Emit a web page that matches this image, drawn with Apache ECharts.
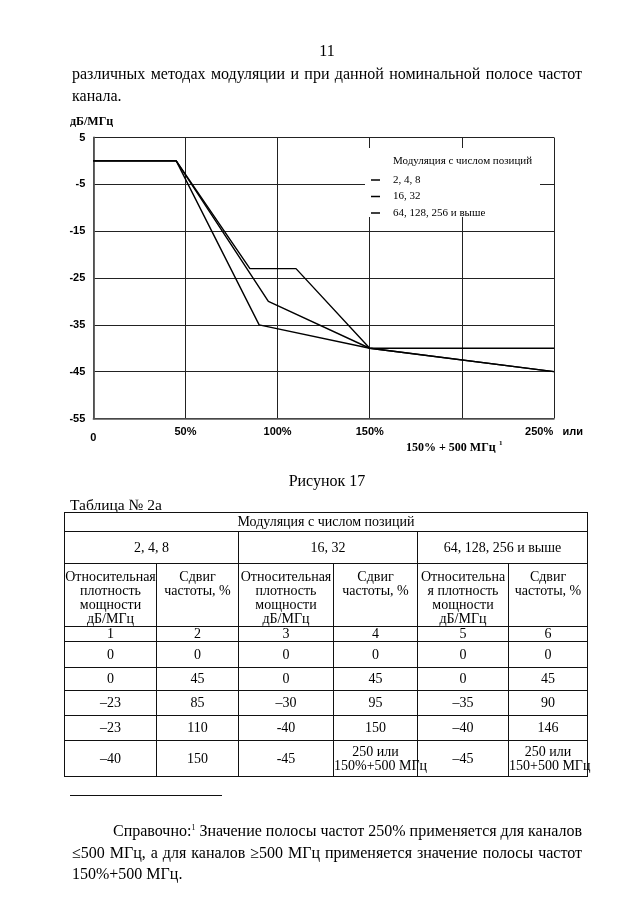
<!DOCTYPE html>
<html><head><meta charset="utf-8">
<script src="https://cdn.jsdelivr.net/npm/echarts@6/dist/echarts.min.js"></script>
<style>
html,body{margin:0;padding:0;background:#fff;}
body{width:640px;height:905px;position:relative;overflow:hidden;font-family:'Liberation Serif','Times New Roman',serif;color:#000;}
#chart{position:absolute;left:0;top:0;width:640px;height:905px;}
.t{position:absolute;font-size:16px;line-height:20px;white-space:nowrap;}
.jl{position:absolute;font-size:16px;line-height:21px;white-space:nowrap;text-align:justify;text-align-last:justify;}
.ll{position:absolute;font-size:16px;line-height:21px;white-space:nowrap;}
#tbl{position:absolute;left:64px;top:512px;border-collapse:collapse;font-size:14px;table-layout:fixed;}
#tbl td{border:1px solid #111;text-align:center;vertical-align:middle;padding:0;line-height:14px;overflow:visible;white-space:nowrap;}
#tbl td.hd{vertical-align:top;padding-top:6px;}
sup{font-size:8px;vertical-align:top;position:relative;top:-3px;}
</style></head><body>
<div id="chart"></div>
<div class="t" style="left:72px;width:510px;top:41px;text-align:center;">11</div>
<div class="jl" style="left:72px;width:510px;top:63px;">различных методах модуляции и при данной номинальной полосе частот</div>
<div class="ll" style="left:72px;top:85px;">канала.</div>
<div class="t" style="left:72px;width:510px;top:471px;text-align:center;">Рисунок 17</div>
<div class="t" style="left:70px;top:495px;font-size:15.5px;">Таблица № 2а</div>
<table id="tbl"></table>
<div style="position:absolute;left:70px;top:795px;width:152px;height:1px;background:#111;"></div>
<div class="jl" style="left:113px;width:469px;top:820px;">Справочно:<sup>1</sup> Значение полосы частот 250% применяется для каналов</div>
<div class="jl" style="left:72px;width:510px;top:842px;">≤500 МГц, а для каналов ≥500 МГц применяется значение полосы частот</div>
<div class="ll" style="left:72px;top:863px;">150%+500 МГц.</div>
<script>
// ---- chart data ----
const seriesNames = ['2, 4, 8', '16, 32', '64, 128, 256 и выше'];
const x248 = [0, 45, 85, 110, 150, 250];
const y248 = [0, 0, -23, -23, -40, -40];
const x1632 = [0, 45, 95, 150, 250];
const y1632 = [0, 0, -30, -40, -45];
const x64 = [0, 45, 90, 150, 250];
const y64 = [0, 0, -35, -40, -45];
const xTickValues = [0, 50, 100, 150, 200, 250];
const xTickLabels = ['0', '50%', '100%', '150%', '', '250%   или'];
const yUnit = 'дБ/МГц';
const legendTitle = 'Модуляция с числом позиций';
const xNote = '150% + 500 МГц';

// ---- table data ----
const tableTitle = 'Модуляция с числом позиций';
const groups = ['2, 4, 8', '16, 32', '64, 128, 256 и выше'];
const headRelative = ['Относительная<br>плотность<br>мощности<br>дБ/МГц', 'Относительная<br>плотность<br>мощности<br>дБ/МГц', 'Относительна<br>я плотность<br>мощности<br>дБ/МГц'];
const headShift = 'Сдвиг<br>частоты, %';
const colNumbers = ['1', '2', '3', '4', '5', '6'];
const tableRows = [
  ['0', '0', '0', '0', '0', '0'],
  ['0', '45', '0', '45', '0', '45'],
  ['–23', '85', '–30', '95', '–35', '90'],
  ['–23', '110', '-40', '150', '–40', '146'],
  ['–40', '150', '-45', '250 или<br>150%+500 МГц', '–45', '250 или<br>150+500 МГц']
];

// build table
(function(){
  const colW = [92, 82, 95, 84, 91, 79];
  const rowH = [19, 32, 63, 13, 26, 23, 25, 25, 36];
  let h = '<colgroup>' + colW.map(w => '<col style="width:' + w + 'px">').join('') + '</colgroup>';
  h += '<tr style="height:' + rowH[0] + 'px"><td colspan="6">' + tableTitle + '</td></tr>';
  h += '<tr style="height:' + rowH[1] + 'px">' + groups.map(g => '<td colspan="2">' + g + '</td>').join('') + '</tr>';
  h += '<tr style="height:' + rowH[2] + 'px">' + headRelative.map(r => '<td class="hd">' + r + '</td><td class="hd">' + headShift + '</td>').join('') + '</tr>';
  h += '<tr style="height:' + rowH[3] + 'px">' + colNumbers.map(n => '<td>' + n + '</td>').join('') + '</tr>';
  tableRows.forEach((r, i) => {
    h += '<tr style="height:' + rowH[4 + i] + 'px">' + r.map(c => '<td>' + c + '</td>').join('') + '</tr>';
  });
  const t = document.getElementById('tbl');
  t.style.width = colW.reduce((a, b) => a + b, 0) + 'px';
  t.innerHTML = h;
})();

const zip = (xs, ys) => xs.map((x, i) => [x, ys[i]]);
const chart = echarts.init(document.getElementById('chart'), null, {renderer: 'canvas'});
const lineStyle = {color: '#000', width: 1.4};
chart.setOption({
  animation: false,
  grid: {left: 93.3, top: 137.5, width: 460.7, height: 281, containLabel: false},
  xAxis: {
    type: 'value', min: 0, max: 250, interval: 50,
    axisLine: {show: true, onZero: false, lineStyle: {color: '#555', width: 1.5}},
    axisTick: {show: false},
    splitLine: {show: true, lineStyle: {color: '#222', width: 1}},
    axisLabel: {
      margin: 8, color: '#000', fontFamily: 'Liberation Sans', fontWeight: 'bold', fontSize: 11,
      formatter: function (v) {
        const i = xTickValues.indexOf(v);
        const s = i >= 0 ? xTickLabels[i] : '';
        return v === 0 ? '{z|' + s + '}' : s;
      },
      rich: {z: {padding: [6, 0, 0, 0], fontFamily: 'Liberation Sans', fontWeight: 'bold', fontSize: 11, color: '#000'}}
    }
  },
  yAxis: {
    type: 'value', min: -55, max: 5, interval: 10,
    axisLine: {show: true, onZero: false, lineStyle: {color: '#555', width: 1.8}},
    axisTick: {show: false},
    splitLine: {show: true, lineStyle: {color: '#222', width: 1}},
    axisLabel: {margin: 8, color: '#000', fontFamily: 'Liberation Sans', fontWeight: 'bold', fontSize: 11}
  },
  legend: {
    data: seriesNames, orient: 'vertical', left: 371, top: 174, padding: 0,
    icon: 'rect', itemWidth: 9, itemHeight: 1.5, itemGap: 4.5,
    textStyle: {fontFamily: 'Liberation Serif', fontSize: 11, color: '#000', lineHeight: 12, padding: [0, 0, 0, 8]},
    selectedMode: false
  },
  title: {
    text: legendTitle, left: 393, top: 156, padding: 0,
    textStyle: {fontFamily: 'Liberation Serif', fontSize: 11, fontWeight: 'normal', color: '#000'}
  },
  graphic: [
    {type: 'rect', z: 3, shape: {x: 365, y: 148, width: 175, height: 69}, style: {fill: '#fff'}},
    {type: 'text', z: 3, left: 70, top: 116, style: {text: yUnit, font: 'bold 12px "Liberation Serif"', fill: '#000'}},
    {type: 'text', z: 3, left: 406, top: 440, style: {
      text: '{a|' + xNote + '} {s|1}',
      rich: {a: {font: 'bold 12px "Liberation Serif"', fill: '#000'}, s: {font: 'bold 7px "Liberation Serif"', fill: '#000', verticalAlign: 'top', padding: [0, 0, 8, 0]}}
    }}
  ],
  series: [
    {name: seriesNames[0], type: 'line', symbol: 'none', data: zip(x248, y248), lineStyle: lineStyle, itemStyle: {color: '#000'}, z: 2},
    {name: seriesNames[1], type: 'line', symbol: 'none', data: zip(x1632, y1632), lineStyle: lineStyle, itemStyle: {color: '#000'}, z: 2},
    {name: seriesNames[2], type: 'line', symbol: 'none', data: zip(x64, y64), lineStyle: lineStyle, itemStyle: {color: '#000'}, z: 2}
  ]
});
</script>
</body></html>
